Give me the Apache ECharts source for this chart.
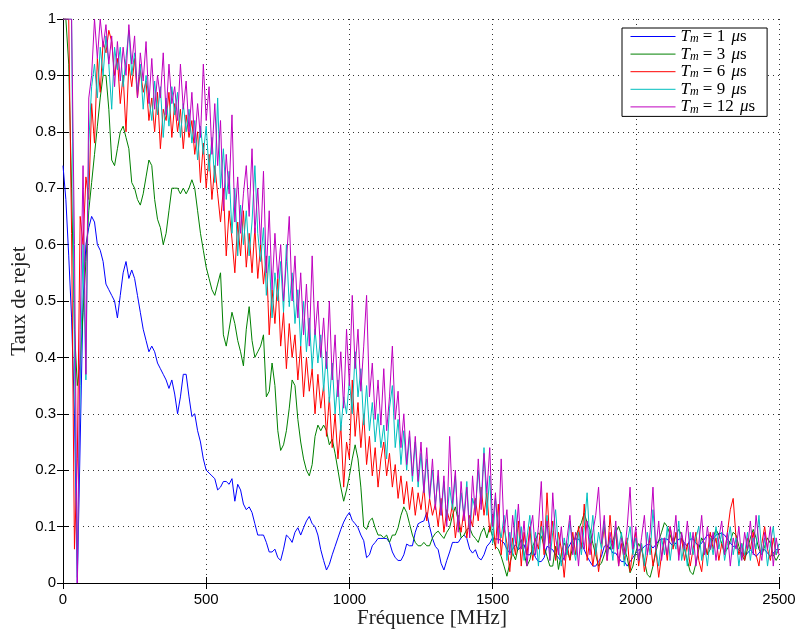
<!DOCTYPE html>
<html>
<head>
<meta charset="utf-8">
<script src="https://cdn.jsdelivr.net/npm/echarts@6/dist/echarts.min.js"></script>
<style>html,body{margin:0;padding:0;background:#fff}#c{width:797px;height:630px}</style>
</head>
<body>
<div id="c"></div>
<script>
// Frequency grid: 0..2500 MHz, one sample every 10 MHz
const freqStart = 0, freqStep = 10, freqCount = 251;
const xTicks = [0, 500, 1000, 1500, 2000, 2500];
const yTicks = [0, 0.1, 0.2, 0.3, 0.4, 0.5, 0.6, 0.7, 0.8, 0.9, 1];
const seriesNames = ['1', '3', '6', '9', '12'];

const tm1 = [
0.74,0.68,0.58,0.47,0.30,0.00,0.25,0.50,0.60,0.63,
0.65,0.64,0.60,0.59,0.57,0.53,0.52,0.51,0.50,0.47,
0.51,0.55,0.57,0.54,0.555,0.54,0.51,0.48,0.45,0.43,
0.41,0.42,0.41,0.39,0.38,0.37,0.36,0.345,0.36,0.335,
0.30,0.33,0.37,0.37,0.33,0.295,0.30,0.27,0.25,0.22,
0.20,0.195,0.19,0.185,0.165,0.17,0.18,0.18,0.175,0.185,
0.145,0.175,0.165,0.14,0.13,0.135,0.125,0.105,0.085,0.085,
0.085,0.072,0.055,0.055,0.06,0.045,0.04,0.06,0.085,0.08,
0.072,0.09,0.098,0.085,0.098,0.11,0.118,0.105,0.10,0.085,
0.059,0.04,0.023,0.033,0.05,0.065,0.08,0.095,0.108,0.118,
0.125,0.111,0.105,0.098,0.085,0.075,0.045,0.05,0.066,0.072,
0.079,0.079,0.079,0.079,0.072,0.055,0.045,0.04,0.04,0.05,
0.069,0.066,0.066,0.09,0.105,0.108,0.11,0.125,0.10,0.079,
0.065,0.059,0.035,0.023,0.04,0.055,0.072,0.072,0.072,0.08,
0.085,0.079,0.06,0.053,0.059,0.045,0.041,0.05,0.065,0.071,
0.08,0.078,0.078,0.075,0.071,0.06,0.053,0.06,0.068,0.059,
0.065,0.068,0.05,0.05,0.059,0.045,0.038,0.038,0.045,0.065,
0.062,0.059,0.05,0.045,0.038,0.045,0.059,0.068,0.078,0.078,
0.078,0.07,0.059,0.047,0.038,0.03,0.03,0.038,0.047,0.065,
0.068,0.062,0.053,0.053,0.045,0.038,0.038,0.03,0.038,0.045,
0.053,0.059,0.059,0.065,0.068,0.068,0.062,0.068,0.075,0.078,
0.078,0.078,0.071,0.065,0.071,0.078,0.078,0.071,0.065,0.078,
0.078,0.071,0.065,0.071,0.078,0.085,0.085,0.078,0.085,0.088,
0.088,0.085,0.078,0.071,0.065,0.065,0.059,0.053,0.047,0.053,
0.059,0.053,0.047,0.053,0.059,0.059,0.053,0.047,0.053,0.059,
0.059];

const tm3 = [
1.0,1.0,0.92,0.70,0.45,0.35,0.39,0.48,0.57,0.66,
0.71,0.76,0.81,0.86,0.90,0.90,0.84,0.75,0.74,0.77,
0.80,0.81,0.79,0.77,0.71,0.70,0.68,0.67,0.69,0.72,
0.75,0.74,0.68,0.645,0.63,0.60,0.62,0.66,0.70,0.70,
0.70,0.69,0.70,0.69,0.70,0.715,0.70,0.66,0.62,0.59,
0.56,0.54,0.52,0.51,0.53,0.55,0.44,0.42,0.45,0.48,
0.46,0.43,0.41,0.385,0.45,0.49,0.43,0.40,0.41,0.42,
0.44,0.33,0.34,0.39,0.35,0.27,0.235,0.245,0.27,0.31,
0.36,0.35,0.29,0.25,0.22,0.20,0.19,0.21,0.26,0.28,
0.27,0.28,0.27,0.245,0.255,0.23,0.20,0.17,0.145,0.165,
0.19,0.22,0.245,0.22,0.17,0.10,0.095,0.11,0.115,0.098,
0.085,0.085,0.08,0.085,0.072,0.085,0.085,0.098,0.12,0.135,
0.125,0.105,0.085,0.072,0.066,0.066,0.072,0.066,0.066,0.08,
0.088,0.092,0.085,0.079,0.09,0.098,0.12,0.135,0.11,0.08,
0.085,0.095,0.098,0.085,0.079,0.072,0.089,0.098,0.08,0.10,
0.082,0.065,0.06,0.047,0.03,0.012,0.035,0.053,0.041,0.065,
0.077,0.053,0.03,0.041,0.065,0.077,0.089,0.083,0.065,0.047,
0.03,0.03,0.065,0.024,0.053,0.071,0.059,0.041,0.065,0.083,
0.095,0.107,0.124,0.107,0.095,0.07,0.05,0.03,0.035,0.05,
0.065,0.06,0.075,0.09,0.10,0.085,0.06,0.045,0.018,0.03,
0.055,0.07,0.06,0.04,0.015,0.01,0.03,0.055,0.075,0.09,
0.107,0.10,0.085,0.07,0.085,0.095,0.085,0.06,0.04,0.02,
0.015,0.035,0.06,0.08,0.07,0.05,0.06,0.08,0.095,0.085,
0.07,0.055,0.06,0.075,0.09,0.085,0.065,0.05,0.04,0.06,
0.08,0.095,0.08,0.06,0.05,0.065,0.08,0.07,0.05,0.04,
0.05];

const tm6 = [
1.0,1.0,1.0,0.62,0.06,0.22,0.65,0.60,0.72,0.68,
0.85,0.78,0.93,0.87,0.96,0.94,0.98,0.96,0.90,0.93,
0.85,0.90,0.80,0.92,0.88,0.93,0.86,0.91,0.87,0.89,
0.82,0.86,0.80,0.87,0.77,0.84,0.82,0.87,0.79,0.85,
0.80,0.84,0.77,0.83,0.79,0.82,0.76,0.80,0.71,0.78,
0.70,0.76,0.68,0.74,0.69,0.64,0.70,0.58,0.66,0.61,
0.55,0.64,0.58,0.66,0.56,0.62,0.55,0.63,0.54,0.60,
0.53,0.58,0.44,0.52,0.46,0.54,0.42,0.48,0.38,0.46,
0.40,0.44,0.36,0.42,0.33,0.40,0.34,0.38,0.30,0.37,
0.31,0.35,0.26,0.33,0.24,0.30,0.22,0.28,0.17,0.25,
0.22,0.36,0.26,0.32,0.24,0.30,0.21,0.26,0.19,0.24,
0.17,0.22,0.25,0.19,0.23,0.17,0.21,0.15,0.19,0.14,
0.18,0.13,0.17,0.12,0.16,0.13,0.17,0.11,0.15,0.12,
0.14,0.10,0.15,0.09,0.13,0.11,0.14,0.08,0.12,0.09,
0.13,0.08,0.12,0.10,0.15,0.11,0.17,0.12,0.16,0.09,
0.12,0.06,0.14,0.05,0.10,0.07,0.02,0.08,0.05,0.11,
0.03,0.09,0.05,0.10,0.04,0.08,0.06,0.11,0.05,0.16,
0.07,0.11,0.04,0.09,0.06,0.01,0.07,0.04,0.09,0.05,
0.10,0.06,0.14,0.04,0.08,0.03,0.07,0.02,0.06,0.10,
0.04,0.12,0.06,0.09,0.03,0.07,0.04,0.08,0.02,0.06,
0.09,0.03,0.07,0.02,0.05,0.08,0.03,0.06,0.01,0.05,
0.08,0.04,0.10,0.06,0.09,0.05,0.08,0.04,0.07,0.03,
0.06,0.09,0.04,0.02,0.07,0.05,0.09,0.06,0.08,0.04,
0.07,0.05,0.09,0.13,0.15,0.08,0.05,0.07,0.04,0.08,
0.06,0.09,0.05,0.03,0.07,0.10,0.06,0.04,0.08,0.05,
0.06];

const tm9 = [
1.0,1.0,1.0,1.0,0.40,0.01,0.35,0.60,0.36,0.78,
0.88,0.92,0.86,0.95,0.90,0.97,0.92,0.84,0.95,0.91,
0.95,0.88,0.93,0.98,0.90,0.94,0.87,0.92,0.84,0.90,
0.86,0.82,0.89,0.83,0.88,0.79,0.86,0.81,0.88,0.83,
0.87,0.79,0.85,0.80,0.84,0.78,0.82,0.75,0.81,0.76,
0.81,0.73,0.79,0.71,0.86,0.70,0.77,0.68,0.73,0.62,
0.70,0.58,0.67,0.60,0.66,0.58,0.64,0.74,0.62,0.57,
0.63,0.51,0.58,0.47,0.55,0.50,0.57,0.48,0.60,0.49,
0.55,0.46,0.52,0.42,0.50,0.41,0.47,0.38,0.45,0.39,
0.44,0.34,0.41,0.32,0.39,0.30,0.36,0.27,0.33,0.30,
0.36,0.30,0.41,0.33,0.38,0.28,0.35,0.27,0.32,0.25,
0.30,0.24,0.28,0.22,0.31,0.35,0.24,0.29,0.21,0.27,
0.20,0.26,0.18,0.25,0.17,0.23,0.16,0.22,0.15,0.20,
0.14,0.19,0.12,0.18,0.11,0.17,0.13,0.19,0.10,0.16,
0.12,0.18,0.09,0.15,0.13,0.20,0.14,0.24,0.12,0.19,
0.07,0.15,0.10,0.08,0.12,0.04,0.09,0.05,0.13,0.06,
0.10,0.04,0.08,0.12,0.05,0.09,0.03,0.10,0.07,0.12,
0.04,0.09,0.13,0.06,0.03,0.08,0.05,0.11,0.07,0.04,
0.09,0.05,0.10,0.16,0.07,0.12,0.05,0.09,0.06,0.11,
0.05,0.08,0.04,0.10,0.06,0.09,0.03,0.07,0.10,0.05,
0.08,0.04,0.07,0.03,0.09,0.05,0.13,0.06,0.03,0.08,
0.05,0.10,0.04,0.08,0.06,0.11,0.04,0.07,0.03,0.09,
0.05,0.08,0.10,0.04,0.07,0.03,0.08,0.05,0.10,0.06,
0.09,0.04,0.07,0.10,0.05,0.08,0.03,0.07,0.05,0.09,
0.04,0.08,0.06,0.12,0.05,0.08,0.03,0.07,0.10,0.05,
0.07];

const tm12 = [
1.0,1.0,1.0,1.0,0.60,0.00,0.45,0.74,0.37,0.86,
0.90,1.00,0.93,1.00,0.95,0.99,0.92,0.97,0.88,0.96,
0.89,0.95,0.90,0.99,0.92,0.97,0.86,0.94,0.89,0.96,
0.85,0.93,0.84,0.90,0.86,0.94,0.83,0.92,0.85,0.88,
0.82,0.92,0.84,0.89,0.80,0.87,0.78,0.85,0.79,0.92,
0.82,0.88,0.76,0.85,0.74,0.82,0.66,0.76,0.69,0.83,
0.64,0.72,0.62,0.69,0.74,0.65,0.77,0.62,0.70,0.60,
0.73,0.55,0.66,0.52,0.62,0.54,0.60,0.50,0.57,0.65,
0.50,0.58,0.47,0.55,0.44,0.53,0.42,0.58,0.44,0.50,
0.40,0.47,0.38,0.50,0.36,0.44,0.33,0.41,0.31,0.45,
0.35,0.51,0.38,0.45,0.34,0.42,0.51,0.33,0.39,0.29,
0.36,0.28,0.38,0.27,0.33,0.42,0.29,0.34,0.24,0.30,
0.21,0.27,0.19,0.26,0.18,0.25,0.16,0.24,0.15,0.22,
0.13,0.20,0.12,0.19,0.10,0.26,0.14,0.20,0.09,0.18,
0.11,0.17,0.08,0.19,0.12,0.22,0.13,0.23,0.16,0.24,
0.10,0.16,0.07,0.22,0.09,0.13,0.05,0.12,0.07,0.14,
0.06,0.11,0.03,0.09,0.12,0.05,0.10,0.18,0.06,0.11,
0.04,0.16,0.08,0.05,0.10,0.04,0.08,0.12,0.05,0.09,
0.03,0.10,0.06,0.11,0.05,0.09,0.12,0.17,0.07,0.12,
0.04,0.09,0.06,0.11,0.03,0.08,0.05,0.10,0.17,0.06,
0.10,0.04,0.08,0.12,0.05,0.09,0.17,0.06,0.11,0.04,
0.08,0.05,0.10,0.07,0.12,0.04,0.09,0.06,0.11,0.05,
0.09,0.03,0.07,0.12,0.05,0.10,0.06,0.09,0.04,0.08,
0.11,0.05,0.09,0.03,0.08,0.06,0.10,0.04,0.09,0.06,
0.11,0.05,0.12,0.07,0.04,0.09,0.06,0.10,0.03,0.08,
0.05];

const seriesValues = [tm1, tm3, tm6, tm9, tm12];
const seriesColors = ['#0000ff', '#008000', '#ff0000', '#00bfbf', '#bf00bf'];

const freqs = Array.from({length: freqCount}, (_, i) => freqStart + i * freqStep);
const labelOf = n => 'T_m = ' + n + ' μs';

const chart = echarts.init(document.getElementById('c'), null, {renderer: 'canvas'});

const axisCommon = {
  axisLine: {show: true, lineStyle: {color: '#000', width: 1}},
  axisTick: {show: true, inside: true, length: 6, lineStyle: {color: '#000'}},
};

const serif = 'Liberation Serif';
const option = {
  animation: false,
  backgroundColor: '#fff',
  grid: {left: 63, right: 18, top: 19, bottom: 47, containLabel: false, outerBoundsMode: 'none'},
  legend: {
    orient: 'vertical',
    left: 622, top: 28,
    padding: [0, 12, 1, 8],
    itemGap: 0.6,
    itemWidth: 45, itemHeight: 14,
    backgroundColor: '#fff',
    borderColor: '#000', borderWidth: 1, borderRadius: 0,
    itemStyle: {opacity: 0},
    lineStyle: {width: 1},
    data: seriesNames.map(labelOf),
    formatter: name => {
      const n = name.replace('T_m = ', '').replace(' μs', '');
      return '{t|T}{m|m}{r| = ' + n + ' }{u|μ}{r|s}';
    },
    textStyle: {
      color: '#000',
      rich: {
        t: {fontFamily: serif, fontStyle: 'italic', fontSize: 17, color: '#000', lineHeight: 17},
        m: {fontFamily: serif, fontStyle: 'italic', fontSize: 12, color: '#000', lineHeight: 17, verticalAlign: 'bottom'},
        r: {fontFamily: serif, fontSize: 17, color: '#000', lineHeight: 17},
        u: {fontFamily: serif, fontStyle: 'italic', fontSize: 17, color: '#000', lineHeight: 17, padding: [0, 0, 0, 2]}
      }
    }
  },
  xAxis: [
    Object.assign({}, axisCommon, {
      type: 'value', position: 'bottom',
      min: xTicks[0], max: xTicks[xTicks.length - 1], interval: xTicks[1] - xTicks[0],
      name: 'Fréquence [MHz]', nameLocation: 'middle', nameGap: 25, nameMoveOverlap: false,
      nameTextStyle: {fontFamily: serif, fontSize: 21, color: '#222', padding: [0, 0, 0, 22]},
      axisLabel: {color: '#000', fontFamily: 'Liberation Sans', fontSize: 15, margin: 9,
        formatter: v => String(v)},
      splitLine: {show: true, lineStyle: {color: '#333', width: 1, type: [1, 4]}}
    }),
    Object.assign({}, axisCommon, {
      type: 'value', position: 'top',
      min: xTicks[0], max: xTicks[xTicks.length - 1], interval: xTicks[1] - xTicks[0],
      axisLabel: {show: false}, splitLine: {show: false}
    })
  ],
  yAxis: [
    Object.assign({}, axisCommon, {
      type: 'value', position: 'left',
      min: yTicks[0], max: yTicks[yTicks.length - 1], interval: 0.1,
      name: 'Taux de rejet', nameLocation: 'middle', nameGap: 33, nameRotate: 90, nameMoveOverlap: false,
      nameTextStyle: {fontFamily: serif, fontSize: 21, color: '#222'},
      axisLabel: {color: '#000', fontFamily: 'Liberation Sans', fontSize: 15, margin: 7,
        formatter: v => String(Math.round(v * 10) / 10)},
      splitLine: {show: true, lineStyle: {color: '#333', width: 1, type: [1, 4]}}
    }),
    Object.assign({}, axisCommon, {
      type: 'value', position: 'right',
      min: yTicks[0], max: yTicks[yTicks.length - 1], interval: 0.1,
      axisLabel: {show: false}, splitLine: {show: false}
    })
  ],
  series: seriesValues.map((vals, k) => ({
    name: labelOf(seriesNames[k]),
    type: 'line',
    xAxisIndex: 0, yAxisIndex: 0,
    symbol: 'none',
    clip: true,
    color: seriesColors[k],
    lineStyle: {color: seriesColors[k], width: 1},
    data: vals.map((v, i) => [freqs[i], v]),
    z: 2 + k
  }))
};
chart.setOption(option);
</script>
</body>
</html>
